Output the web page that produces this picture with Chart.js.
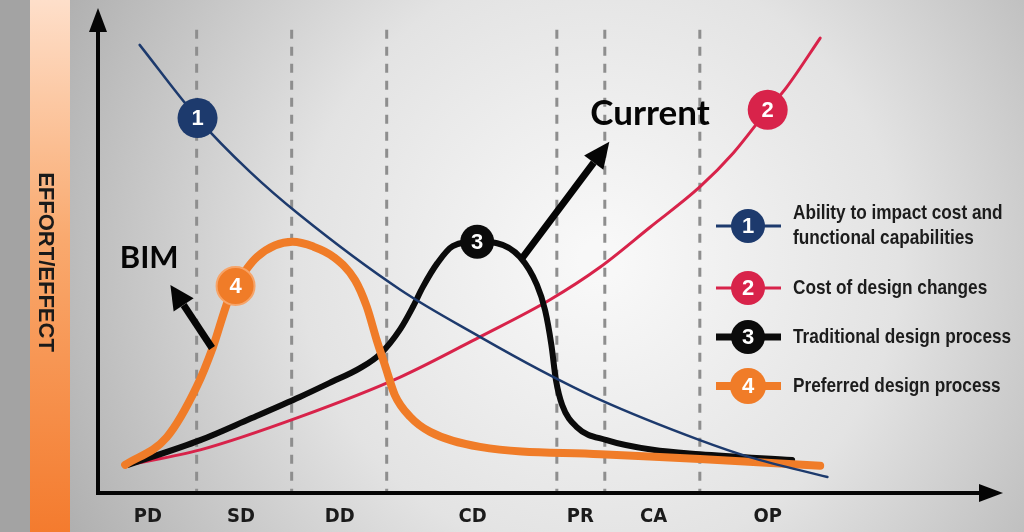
<!DOCTYPE html>
<html>
<head>
<meta charset="utf-8">
<script src="https://cdn.jsdelivr.net/npm/chart.js@4.4.1/dist/chart.umd.min.js"></script>
<style>
  html, body { margin: 0; padding: 0; background: #bdbdbd; overflow: hidden; }
  canvas { display: block; }
</style>
</head>
<body>
<canvas id="chart" width="1024" height="532"></canvas>
<script>
// project phases along the time axis
const phaseLabels = ['PD', 'SD', 'DD', 'CD', 'PR', 'CA', 'OP'];
const phaseCenters = [5.5, 15.8, 26.7, 41.4, 53.3, 61.4, 74.0];
const phaseBounds = [10.9, 21.4, 31.9, 50.7, 56.0, 66.5];

// 1 - ability to impact cost
const abilityX = [4.6, 11.0, 16.8, 22.3, 33.4, 42.2, 48.8, 55.5, 66.5, 72.0, 80.6];
const abilityY = [92.4, 77.3, 66.2, 57.3, 41.9, 32.2, 25.4, 19.2, 10.9, 7.4, 3.3];
// 2 - cost of design changes
const costX = [3.3, 11.3, 22.3, 33.4, 42.2, 49.9, 55.5, 61.0, 66.5, 70.2, 74.0, 76.1, 79.8];
const costY = [5.8, 8.9, 15.7, 23.9, 32.2, 39.8, 46.6, 54.8, 63.1, 70.1, 79.0, 83.7, 93.8];
// 3 - traditional design process
const traditionalX = [3.3, 11.3, 16.8, 22.3, 25.6, 29.0, 31.2, 33.4, 34.8, 35.9, 37.5, 39.2, 41.9, 44.1, 46.6, 48.5, 49.4, 50.1, 50.6, 51.3, 52.9, 56.2, 61.3, 66.5, 76.7];
const traditionalY = [5.8, 10.9, 15.3, 19.8, 22.7, 25.8, 28.7, 33.8, 38.4, 42.5, 47.4, 50.9, 51.8, 51.5, 48.7, 42.9, 37.7, 30.5, 23.3, 18.1, 13.6, 10.9, 8.9, 8.0, 6.8];
// 4 - preferred design process
const preferredX = [3.0, 7.6, 10.9, 12.7, 14.4, 15.2, 17.6, 21.5, 23.8, 26.0, 28.4, 29.7, 30.8, 31.7, 32.8, 34.5, 36.7, 42.2, 55.5, 66.5, 79.8];
const preferredY = [5.8, 11.5, 21.9, 30.1, 39.8, 42.7, 48.7, 51.8, 50.8, 48.7, 43.9, 38.4, 31.5, 26.4, 20.2, 15.7, 12.6, 9.5, 8.0, 7.0, 5.6];

const seriesNames = ['Ability to impact cost and functional capabilities', 'Cost of design changes', 'Traditional design process', 'Preferred design process'];
const legendLines = [['Ability to impact cost and', 'functional capabilities'], ['Cost of design changes'], ['Traditional design process'], ['Preferred design process']];
const markerDigits = ['1', '2', '3', '4'];
const markerIndex = [1, 10, 12, 5];

const COLORS = ['#1d3a6d', '#d8234a', '#0b0b0b', '#f07c28'];
const NARROW = '"Liberation Sans Narrow", "DejaVu Sans Condensed", "Liberation Sans", sans-serif';

function pts(xs, ys) { return xs.map((x, i) => ({ x, y: ys[i] })); }

const curveData = [pts(abilityX, abilityY), pts(costX, costY), pts(traditionalX, traditionalY), pts(preferredX, preferredY)];
const lineWidths = [2.5, 3, 6, 8];
const markerRadius = [20, 20, 17, 19];
const drawOrder = [1, 4, 3, 2];

function arrow(ctx, x1, y1, x2, y2, w, headLen, headW) {
  const ang = Math.atan2(y2 - y1, x2 - x1);
  const bx = x2 - Math.cos(ang) * headLen, by = y2 - Math.sin(ang) * headLen;
  ctx.beginPath();
  ctx.lineWidth = w;
  ctx.lineCap = 'butt';
  ctx.moveTo(x1, y1);
  ctx.lineTo(bx, by);
  ctx.stroke();
  ctx.beginPath();
  ctx.moveTo(x2, y2);
  ctx.lineTo(bx + Math.sin(ang) * headW / 2, by - Math.cos(ang) * headW / 2);
  ctx.lineTo(bx - Math.sin(ang) * headW / 2, by + Math.cos(ang) * headW / 2);
  ctx.closePath();
  ctx.fill();
}

// bold text, optionally squeezed horizontally to look condensed
function narrowText(ctx, text, x, y, size, squeeze) {
  ctx.save();
  ctx.font = 'bold ' + size + 'px "Liberation Sans", Arial, sans-serif';
  ctx.translate(x, y);
  ctx.scale(squeeze, 1);
  ctx.fillText(text, 0, 0);
  ctx.restore();
}

const backdrop = {
  id: 'backdrop',
  beforeDraw(chart) {
    const { ctx, width, height } = chart;
    ctx.save();
    const bg = ctx.createRadialGradient(600, 260, 20, 600, 260, 640);
    bg.addColorStop(0, '#f8f8f8');
    bg.addColorStop(0.45, '#e3e3e3');
    bg.addColorStop(1, '#a8a8a8');
    ctx.fillStyle = bg;
    ctx.fillRect(0, 0, width, height);
    ctx.fillStyle = '#a3a3a3';
    ctx.fillRect(0, 0, 30, height);
    const og = ctx.createLinearGradient(0, 0, 0, height);
    og.addColorStop(0, '#fedfca');
    og.addColorStop(0.45, '#f9a96e');
    og.addColorStop(1, '#f47b2e');
    ctx.fillStyle = og;
    ctx.fillRect(30, 0, 40, height);
    ctx.translate(45, 262);
    ctx.rotate(Math.PI / 2);
    ctx.fillStyle = '#1a1a1a';
    ctx.textAlign = 'center';
    ctx.textBaseline = 'middle';
    narrowText(ctx, 'EFFORT/EFFECT', 0, 0, 22, 1);
    ctx.restore();
  },
  beforeDatasetsDraw(chart) {
    const { ctx, scales: { x, y } } = chart;
    ctx.save();
    ctx.strokeStyle = '#8e8e8e';
    ctx.lineWidth = 3;
    ctx.setLineDash([9, 8]);
    phaseBounds.forEach(b => {
      const px = x.getPixelForValue(b);
      ctx.beginPath();
      ctx.moveTo(px, y.getPixelForValue(95.5));
      ctx.lineTo(px, y.getPixelForValue(0));
      ctx.stroke();
    });
    ctx.setLineDash([]);
    // axes with arrow heads
    ctx.strokeStyle = '#050505';
    ctx.fillStyle = '#050505';
    const x0 = x.getPixelForValue(0), y0 = y.getPixelForValue(0);
    arrow(ctx, x0, y0 + 2, x0, y.getPixelForValue(100), 4, 24, 18);
    arrow(ctx, x0 - 2, y0, x.getPixelForValue(100), y0, 4, 24, 18);
    ctx.restore();
  },
  afterDatasetsDraw(chart) {
    const { ctx, scales: { x, y } } = chart;
    ctx.save();
    ctx.fillStyle = '#fff';
    ctx.textAlign = 'center';
    ctx.textBaseline = 'middle';
    ctx.font = 'bold 22px "Liberation Sans", Arial, sans-serif';
    chart.data.datasets.forEach((ds, i) => {
      const p = chart.getDatasetMeta(i).data[markerIndex[i]];
      ctx.fillText(markerDigits[i], p.x, p.y + 1);
    });
    // annotations
    ctx.fillStyle = '#050505';
    ctx.strokeStyle = '#050505';
    arrow(ctx, x.getPixelForValue(46.9), y.getPixelForValue(48.5), x.getPixelForValue(56.5), y.getPixelForValue(72.4), 7, 26, 24);
    arrow(ctx, x.getPixelForValue(12.6), y.getPixelForValue(29.9), x.getPixelForValue(8.0), y.getPixelForValue(42.9), 7, 24, 24);
    ctx.textAlign = 'left';
    ctx.font = 'bold 35px Lato, "Open Sans", sans-serif';
    ctx.fillText('Current', x.getPixelForValue(54.4), y.getPixelForValue(78.1));
    ctx.font = 'bold 31px Lato, "Open Sans", sans-serif';
    ctx.fillText('BIM', x.getPixelForValue(2.4), y.getPixelForValue(48.5));
    ctx.restore();
  },
  afterDraw(chart) {
    const { ctx } = chart;
    const rows = [226, 288, 337, 386];
    const lw = [3, 3, 7, 8];
    ctx.save();
    rows.forEach((ry, i) => {
      ctx.strokeStyle = COLORS[i];
      ctx.lineWidth = lw[i];
      ctx.beginPath();
      ctx.moveTo(716, ry);
      ctx.lineTo(781, ry);
      ctx.stroke();
      ctx.fillStyle = COLORS[i];
      ctx.beginPath();
      ctx.arc(748, ry, i === 3 ? 18 : 17, 0, Math.PI * 2);
      ctx.fill();
      ctx.fillStyle = '#fff';
      ctx.textAlign = 'center';
      ctx.textBaseline = 'middle';
      ctx.font = 'bold 22px "Liberation Sans", Arial, sans-serif';
      ctx.fillText(markerDigits[i], 748, ry + 1);
      ctx.fillStyle = '#1c1c1c';
      ctx.textAlign = 'left';
      const lines = legendLines[i];
      lines.forEach((t, k) => {
        const ty = lines.length === 1 ? ry : ry - 13 + k * 25;
        narrowText(ctx, t, 793, ty, 21, 0.82);
      });
    });
    ctx.restore();
  }
};

new Chart(document.getElementById('chart'), {
  type: 'line',
  data: {
    datasets: curveData.map((d, i) => ({
      label: seriesNames[i],
      data: d,
      borderColor: COLORS[i],
      borderWidth: lineWidths[i],
      borderCapStyle: 'round',
      borderJoinStyle: 'round',
      cubicInterpolationMode: 'monotone',
      fill: false,
      order: drawOrder[i],
      pointRadius: c => (c.dataIndex === markerIndex[i] ? markerRadius[i] : 0),
      pointBackgroundColor: COLORS[i],
      pointBorderColor: i === 3 ? '#f7a468' : COLORS[i],
      pointBorderWidth: i === 3 ? 2 : 0
    }))
  },
  options: {
    responsive: false,
    animation: false,
    events: [],
    layout: { padding: { left: 98, right: 21, top: 8, bottom: 0 } },
    plugins: { legend: { display: false }, tooltip: { enabled: false } },
    scales: {
      x: {
        type: 'linear',
        min: 0,
        max: 100,
        grid: { display: false, drawTicks: false },
        border: { display: false },
        afterBuildTicks: s => { s.ticks = phaseCenters.map(v => ({ value: v })); },
        afterFit: s => { s.height = 39; },
        ticks: {
          autoSkip: false,
          maxRotation: 0,
          padding: 12,
          color: '#1b1b1b',
          font: { family: NARROW, size: 20, weight: 'bold' },
          callback: (v, i) => phaseLabels[i]
        }
      },
      y: { type: 'linear', min: 0, max: 100, display: false }
    }
  },
  plugins: [backdrop]
});
</script>
</body>
</html>
